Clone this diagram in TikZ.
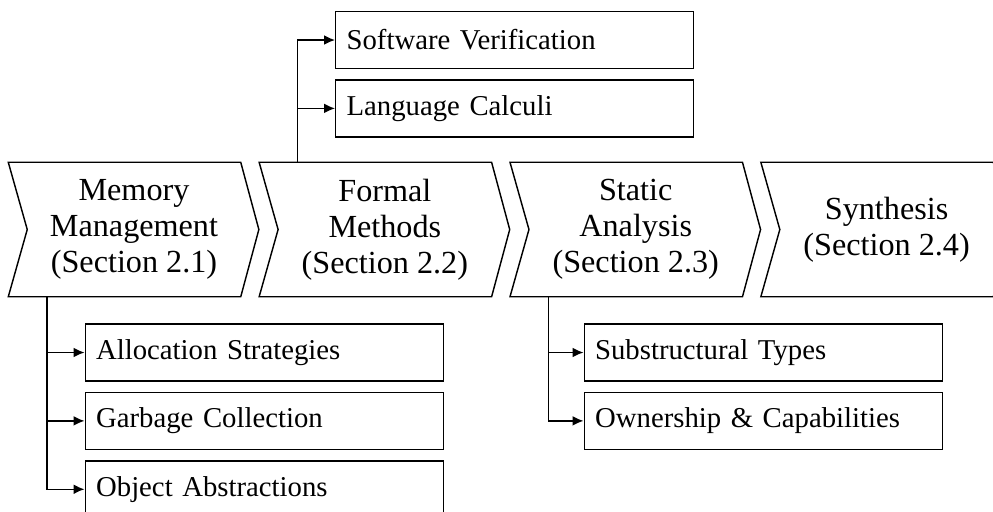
\documentclass[tikz,border=0pt]{standalone}
\usepackage{fontspec}
\setmainfont{Liberation Serif}
\usetikzlibrary{positioning,arrows.meta}

\begin{document}
\begin{tikzpicture}
        [
            x=0.348pt, y=-0.348pt,
            line width=0.5pt,
            stage/.style={minimum width=73.8pt, minimum height=46.3pt, inner sep=0pt,
                align=center, font=\fontsize{11.2}{12.6}\selectfont},
            topic/.style={draw, anchor=west, minimum height=19.8pt, text width=117pt,
                inner xsep=3.8pt, align=left, font=\fontsize{10}{12}\selectfont},
            link/.style={-{Latex[length=3.8pt,width=3.4pt]}},
        ]
        \useasboundingbox (0,0) rectangle (993,511);

        % stages
        \node[stage] (mm) at (134,229.5) {Memory\\Management\\(Section 2.1)};
        \node[stage, right=13pt of mm] (fm) {Formal\\Methods\\(Section 2.2)};
        \node[stage, right=13pt of fm] (sa) {Static\\Analysis\\(Section 2.3)};
        \node[stage, right=13pt of sa] (sy) {Synthesis\\(Section 2.4)};
        \foreach \s in {mm,fm,sa,sy}
            \draw ([xshift=-6.6pt]\s.north west) -- (\s.north east) -- ([xshift=6.3pt]\s.east)
                -- (\s.south east) -- ([xshift=-6.6pt]\s.south west) -- (\s.west) -- cycle;

        \coordinate (mmroot) at ([xshift=6.8pt]mm.south west);
        \coordinate (fmroot) at ([xshift=6.8pt]fm.north west);
        \coordinate (saroot) at ([xshift=6.8pt]sa.south west);

        % topics
        \node[topic] (sv) at (335,40) {Software Verification};
        \node[topic, below=3.5pt of sv] (lc) {Language Calculi};
        \node[topic] (alloc) at (84.5,352.5) {Allocation Strategies};
        \node[topic, below=3.5pt of alloc] (gc) {Garbage Collection};
        \node[topic, below=3.5pt of gc] (obj) {Object Abstractions};
        \node[topic] (sub) at (583.5,352.5) {Substructural Types};
        \node[topic, below=3.5pt of sub] (own) {Ownership \& Capabilities};

        \draw[link] (fmroot) |- (sv.west);
        \draw[link] (fmroot) |- (lc.west);
        \draw[link] (mmroot) |- (alloc.west);
        \draw[link] (mmroot) |- (gc.west);
        \draw[link] (mmroot) |- (obj.west);
        \draw[link] (saroot) |- (sub.west);
        \draw[link] (saroot) |- (own.west);
\end{tikzpicture}
\end{document}
